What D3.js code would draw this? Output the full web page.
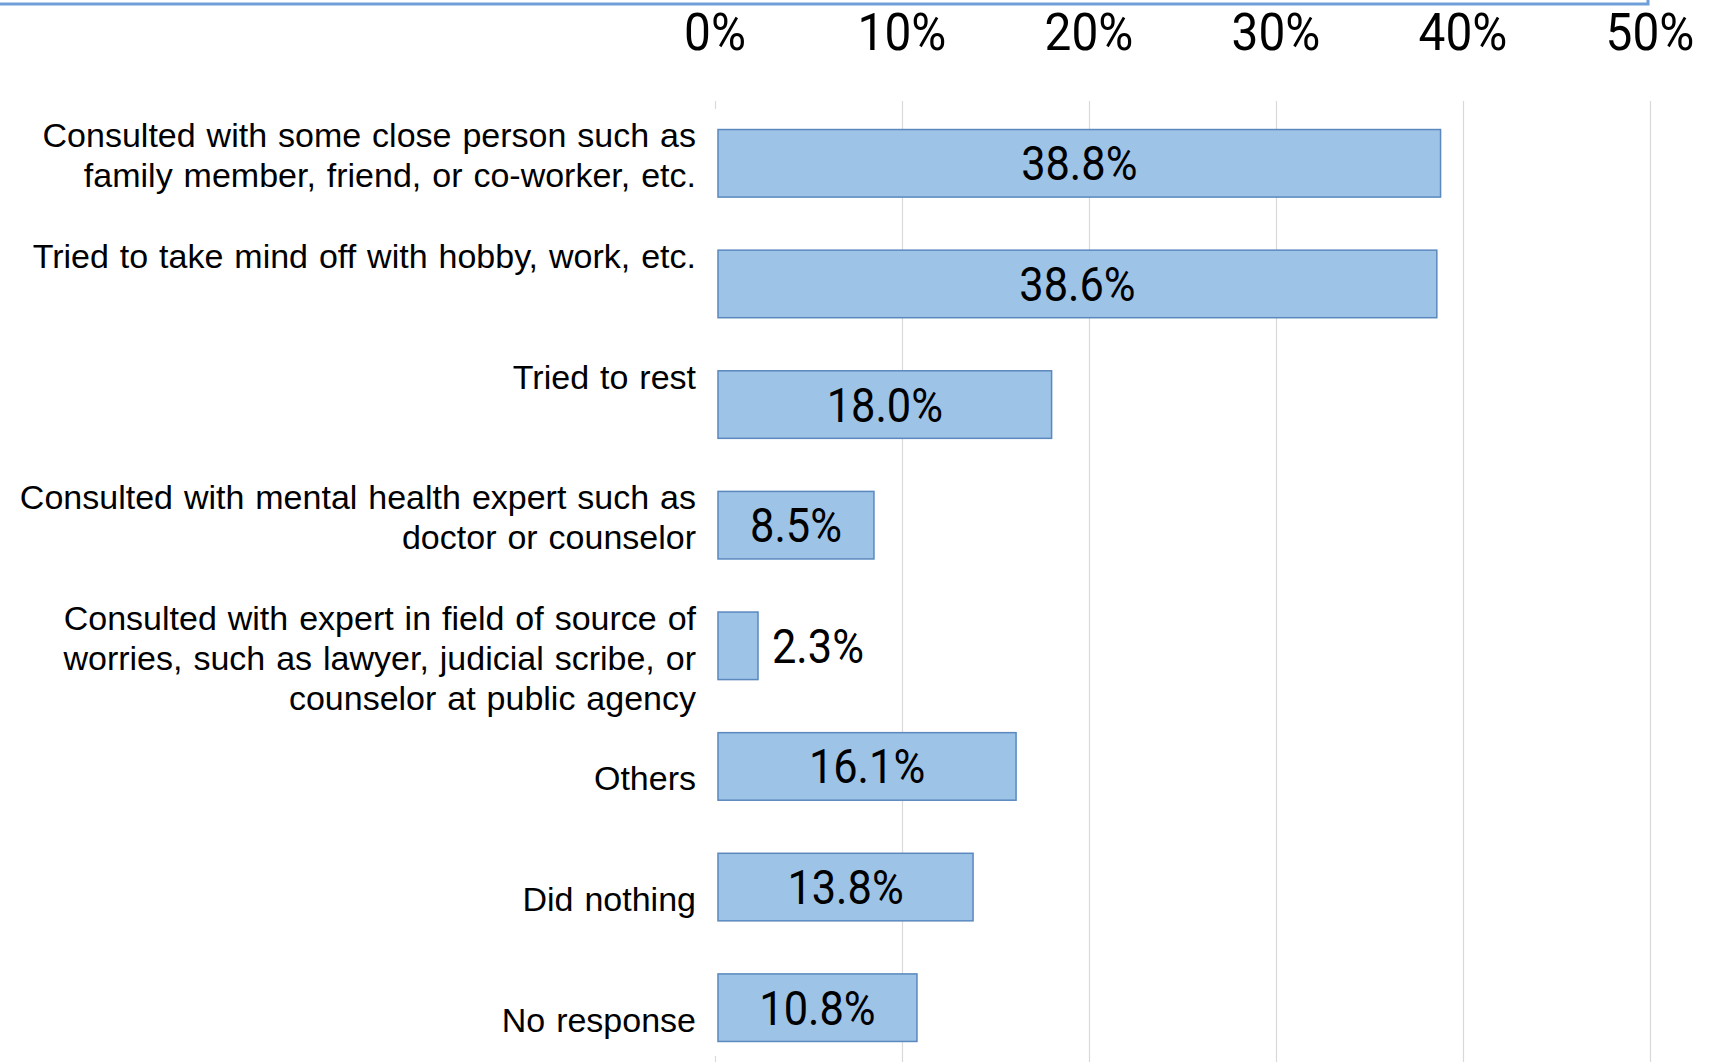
<!DOCTYPE html>
<html>
<head>
<meta charset="utf-8">
<script src="https://cdn.jsdelivr.net/npm/d3@7"></script>
<style>
  html, body { margin: 0; padding: 0; background: #fff; }
  svg { display: block; }
</style>
</head>
<body>
<svg id="chart" width="1711" height="1062"></svg>
<script>
// category labels, one entry per line (empty lines keep the original spacing)
const categories = [
  ["Consulted with some close person such as", "family member, friend, or co-worker, etc.", ""],
  ["Tried to take mind off with hobby, work, etc.", "", ""],
  ["Tried to rest", "", ""],
  ["Consulted with mental health expert such as", "doctor or counselor", ""],
  ["Consulted with expert in field of source of", "worries, such as lawyer, judicial scribe, or", "counselor at public agency"],
  ["Others"],
  ["Did nothing"],
  ["No response"]
]
const values = [0.388, 0.386, 0.180, 0.085, 0.023, 0.161, 0.138, 0.108]
const ticks = [0, 0.1, 0.2, 0.3, 0.4, 0.5]

const svg = d3.select('#chart')
const keys = d3.range(categories.length)

const x = d3.scaleLinear()
  .domain([0, 0.5])
  .range([715, 1650])

const y = d3.scaleBand()
  .domain(keys)
  .range([103, 1068])
  .paddingInner(0.44)
  .paddingOuter(0.22)

const pct = d3.format('.1%')

// top border line
svg.append('path')
  .attr('d', 'M0,4H1648V0')
  .attr('fill', 'none')
  .attr('stroke', '#6f9fd8')
  .attr('stroke-width', 3)

// gridlines
svg.append('g')
  .selectAll('line')
  .data(ticks.filter(t => t > 0))
  .join('line')
  .attr('x1', d => Math.round(x(d)) + 0.5)
  .attr('x2', d => Math.round(x(d)) + 0.5)
  .attr('y1', 101)
  .attr('y2', 1062)
  .attr('stroke', '#d9d9d9')
  .attr('stroke-width', 1.2)

// zero line only shows as short stubs
svg.append('g')
  .selectAll('line')
  .data([[101, 109], [1056, 1062]])
  .join('line')
  .attr('x1', Math.round(x(0)) + 0.5)
  .attr('x2', Math.round(x(0)) + 0.5)
  .attr('y1', d => d[0])
  .attr('y2', d => d[1])
  .attr('stroke', '#d9d9d9')
  .attr('stroke-width', 1.2)

// tick labels on top
svg.append('g')
  .selectAll('text')
  .data(ticks)
  .join('text')
  .attr('transform', d => `translate(${x(d)},50) scale(0.92,1)`)
  .attr('text-anchor', 'middle')
  .attr('font-family', 'Roboto, sans-serif')
  .attr('font-size', 52)
  .attr('fill', '#000')
  .text(d => d3.format('.0%')(d))

// bars
svg.append('g')
  .selectAll('rect')
  .data(values)
  .join('rect')
  .attr('x', x(0) + 3)
  .attr('y', (d, i) => y(i))
  .attr('width', d => x(d) - x(0) - 3)
  .attr('height', y.bandwidth())
  .attr('fill', '#9dc3e6')
  .attr('stroke', '#5a88bf')
  .attr('stroke-width', 1.5)

// value labels
svg.append('g')
  .selectAll('text')
  .data(values)
  .join('text')
  .attr('transform', (d, i) => {
    const cy = y(i) + y.bandwidth() / 2 + 17
    const cx = d > 0.05 ? (x(0) + 3 + x(d)) / 2 : x(d) + 14
    return `translate(${cx},${cy}) scale(0.885,1)`
  })
  .attr('text-anchor', d => d > 0.05 ? 'middle' : 'start')
  .attr('font-family', 'Roboto, sans-serif')
  .attr('font-size', 49)
  .attr('fill', '#000')
  .text(d => pct(d))

// category labels
const lineH = 40
const labels = svg.append('g')
  .selectAll('text')
  .data(categories)
  .join('text')
  .attr('text-anchor', 'end')
  .attr('font-family', 'Liberation Sans, Arial, sans-serif')
  .attr('font-size', 34)
  .attr('word-spacing', 1.5)
  .attr('fill', '#000')

labels.selectAll('tspan')
  .data((d, i) => d.map((t, j) => ({ t, j, n: d.length, i })))
  .join('tspan')
  .attr('x', 696)
  .attr('y', d => y(d.i) + y.bandwidth() / 2 + 24 + (d.j - (d.n - 1) / 2) * lineH)
  .text(d => d.t)
</script>
</body>
</html>
